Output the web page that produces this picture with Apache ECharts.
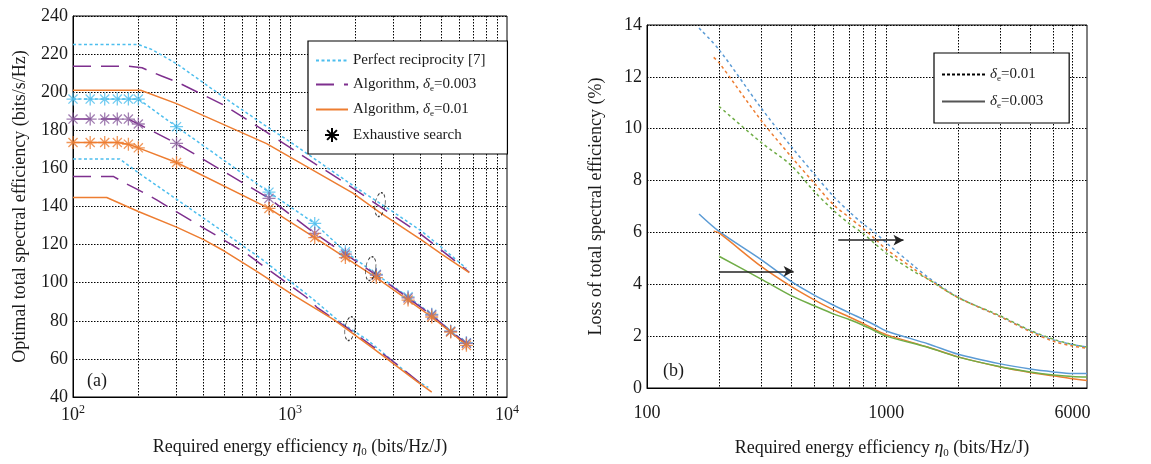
<!DOCTYPE html>
<html>
<head>
<meta charset="utf-8">
<script src="https://cdn.jsdelivr.net/npm/echarts@6/dist/echarts.min.js"></script>
<style>
  html, body { margin: 0; padding: 0; background: #fff; }
  #chart { width: 1151px; height: 464px; }
</style>
</head>
<body>
<div id="chart"></div>
<script>
// ---------- (a) optimal total spectral efficiency vs required energy efficiency ----------
// [eta0 (bits/Hz/J), spectral efficiency (bits/s/Hz)]
const prTop = [[100,225],[200,225],[230,222.5],[300,215],[500,197],[780,182],[1000,174],[1950,151],[3000,137],[4045,127],[5000,118.5],[6500,107.5]];
const alg3Top = [[100,213.6],[180,213.6],[208,212.8],[256,208.5],[300,205.5],[500,193],[780,179],[1280,163],[1760,153],[3200,133],[4000,125.5],[5000,117],[6700,105.5]];
const alg10Top = [[100,201],[205,201],[300,194],[780,173],[1280,159],[1950,147],[2580,137],[4045,122.3],[5000,115],[6700,105.3]];

// middle configuration, also checked by exhaustive search at the same eta0 values
const esEta = [100,120,140,160,180,200,300,800,1300,1800,2500,3500,4500,5500,6500];
const prMid = [196.4,196.4,196.4,196.4,196.4,196.4,181.9,147.5,131.1,116.2,104.4,92.6,83.4,74.6,68.5];
const alg3Mid = [185.9,185.9,185.9,185.9,185.9,183.3,173.1,144.3,125.9,115,104,92,83,74.4,68.2];
const alg10Mid = [173.6,173.6,173.6,173.6,172.7,170.8,163.1,139.0,123.7,113.2,102.7,90.9,82,74.1,67.1];

const prBot = [[100,165],[164,165],[200,157.7],[300,143.8],[472,128.2],[744,112.2],[1267,91.7],[1696,79.4],[2272,70],[3350,54],[3815,48.8],[4340,45]];
const alg3Bot = [[100,155.7],[154,155.7],[174,152.2],[200,148.7],[243,143.5],[281,139.1],[465,124.3],[636,115],[718,110.5],[1187,92.5],[1330,87.1],[1590,81],[1810,76.8],[2940,59.3],[3815,49],[4000,47]];
const alg10Bot = [[100,144.7],[143,144.7],[200,137.4],[300,129.2],[400,122.6],[500,116.5],[700,106.1],[1010,94.3],[1590,80.6],[2425,65.4],[3815,48.5],[4500,42.6]];

// dashed ellipses grouping the three curve families
const ellipseEta = [2600, 2355, 1890];
const ellipseSE = [141, 107.4, 75.9];

// ---------- (b) loss of total spectral efficiency (%) ----------
const lossBlueDash = [[165,13.88],[200,13.05],[300,10.8],[400,9.32],[500,8.25],[600,7.4],[700,6.8],[800,6.33],[900,5.98],[1000,5.6],[1300,4.72],[1500,4.26],[2000,3.5],[3000,2.75],[4000,2.2],[5000,1.85],[6000,1.68],[6900,1.58]];
const lossOrangeDash = [[190,12.75],[200,12.55],[300,10.32],[400,8.93],[500,7.9],[600,7.08],[700,6.58],[800,6.15],[900,5.74],[1000,5.35],[1300,4.6],[1500,4.19],[2000,3.48],[3000,2.75],[4000,2.17],[5000,1.8],[6000,1.62],[6900,1.53]];
const lossGreenDash = [[200,10.86],[300,9.47],[400,8.59],[500,7.58],[600,6.86],[700,6.34],[800,5.96],[900,5.55],[1000,5.2],[1300,4.5],[1500,4.19],[2000,3.48],[3000,2.78],[4000,2.22],[5000,1.88],[6000,1.68],[6900,1.58]];
const lossBlueSolid = [[165,6.71],[200,6.04],[300,4.95],[400,4.11],[500,3.58],[600,3.2],[700,2.9],[800,2.65],[900,2.42],[1000,2.2],[1500,1.7],[2000,1.3],[3000,0.93],[4000,0.73],[5000,0.62],[6000,0.56],[6900,0.56]];
const lossOrangeSolid = [[190,6.05],[200,5.98],[300,4.69],[400,3.92],[500,3.4],[600,3.02],[700,2.74],[800,2.49],[900,2.25],[1000,2.06],[1500,1.57],[2000,1.2],[3000,0.81],[4000,0.6],[5000,0.47],[6000,0.36],[6900,0.29]];
const lossGreenSolid = [[200,5.08],[300,4.2],[400,3.56],[500,3.17],[600,2.86],[700,2.64],[800,2.42],[900,2.2],[1000,2.0],[1500,1.56],[2000,1.19],[3000,0.82],[4000,0.62],[5000,0.5],[6000,0.44],[6900,0.42]];

// horizontal arrows: [eta from, eta to, loss level]
const arrowLow = [200, 410, 4.5];
const arrowHigh = [630, 1180, 5.7];

// axis ticks / grid
const leftGridEta = [200,300,400,500,600,700,800,900,1000,2000,3000,4000,5000,6000,7000,8000,9000];
const rightGridEta = [200,300,400,500,600,700,800,900,1000,2000,3000,4000,5000,6000];
const leftTickEta = [100, 1000, 10000];
const rightTickEta = [100, 1000, 6000];
const rightMaxEta = 6900;

// ---------- styling ----------
const FONT = '"Liberation Serif", "DejaVu Serif", serif';
const TXT = '#1a1a1a';
const CYAN = '#4DBEEE', PURPLE = '#7E2F8E', ORANGE = '#ED7D31', PURPLE_MK = '#8A5C9E';
const BLUE = '#5B9BD5', GREEN = '#70AD47';
const ASTERISK = 'path://M0,-10L0,10M-10,0L10,0M-7,-7L7,7M-7,7L7,-7';

const lg = v => Math.log10(v);
const toXY = pts => pts.map(p => [lg(p[0]), p[1]]);
const zipXY = (xs, ys) => xs.map((x, i) => [lg(x), ys[i]]);

function curve(name, data, color, dash, width, idx, smooth) {
  return {
    type: 'line', name, data, xAxisIndex: idx, yAxisIndex: idx,
    symbol: 'none', showSymbol: false, smooth: smooth || false,
    lineStyle: { color, type: dash, width }, itemStyle: { color },
    silent: true, z: 3
  };
}
function stars(name, data, color) {
  return {
    type: 'scatter', name, data, xAxisIndex: 0, yAxisIndex: 0,
    symbol: ASTERISK, symbolSize: 13,
    itemStyle: { color, borderColor: color, borderWidth: 1.3 },
    silent: true, z: 5
  };
}

const N_PR = 'Perfect reciprocity [7]';
const N_A3 = 'Algorithm, δe=0.003';
const N_A10 = 'Algorithm, δe=0.01';
const N_ES = 'Exhaustive search';
const N_D01 = 'δe=0.01';
const N_D003 = 'δe=0.003';

const PR_DASH = [3, 2.5];
const A3_DASH = [18, 10];
const LOSS_DASH = [3, 3];

const subRich = {
  d: { fontFamily: FONT, fontSize: 15, fontStyle: 'italic', color: TXT },
  s: { fontFamily: FONT, fontSize: 9, color: TXT, padding: [8, 0, 0, 0] },
  t: { fontFamily: FONT, fontSize: 15, color: TXT }
};
const legendFmt = name => {
  const i = name.indexOf('δe');
  if (i < 0) return '{t|' + name + '}';
  return '{t|' + name.slice(0, i) + '}{d|δ}{s|e}{t|' + name.slice(i + 2) + '}';
};
// line entries show only their stroke; the search entry keeps its asterisk
const lineOnly = { opacity: 0 };
const showMark = { opacity: 1 };

const axisNameRich = {
  t: { fontFamily: FONT, fontSize: 18, color: TXT },
  i: { fontFamily: FONT, fontSize: 18, fontStyle: 'italic', color: TXT },
  s: { fontFamily: FONT, fontSize: 11, color: TXT, padding: [10, 0, 0, 0] }
};
const gridLine = { show: true, lineStyle: { color: '#000', type: [1.5, 1.5], width: 1 } };

function xAxisFor(idx, maxEta, gridEta, tickEta, fmt, labelMargin, nameGap, shift) {
  return {
    type: 'value', gridIndex: idx, min: 2, max: lg(maxEta),
    axisLine: { show: true, onZero: false, lineStyle: { color: '#000', width: 1 } },
    axisTick: { show: false, customValues: gridEta.map(lg) },
    splitLine: gridLine,
    axisLabel: {
      customValues: tickEta.map(lg), formatter: fmt, margin: labelMargin,
      fontFamily: FONT, fontSize: 18, color: TXT,
      rich: {
        b: { fontFamily: FONT, fontSize: 18, color: TXT },
        p: { fontFamily: FONT, fontSize: 12, color: TXT, padding: [0, 0, 10, 0] }
      }
    },
    name: '{t|Required energy efficiency }{i|η}{s|0}{t| (bits/Hz/J)}',
    nameLocation: 'middle', nameGap,
    nameTextStyle: { rich: axisNameRich, padding: [0, 0, 0, shift] }
  };
}
function yAxisFor(idx, min, max, step, title, gap) {
  return {
    type: 'value', gridIndex: idx, min, max, interval: step,
    axisLine: { show: true, lineStyle: { color: '#000', width: 1 } },
    axisTick: { show: false },
    splitLine: gridLine,
    axisLabel: { fontFamily: FONT, fontSize: 18, color: TXT, margin: 5 },
    name: title, nameLocation: 'middle', nameGap: gap,
    nameTextStyle: { fontFamily: FONT, fontSize: 18, color: TXT }
  };
}

const option = {
  animation: false,
  backgroundColor: '#fff',
  grid: [
    { left: 73, right: 644, top: 16, bottom: 67, show: true, borderColor: '#000', borderWidth: 1, backgroundColor: 'transparent' },
    { left: 647, right: 64, top: 25, bottom: 76, show: true, borderColor: '#000', borderWidth: 1, backgroundColor: 'transparent' }
  ],
  xAxis: [
    xAxisFor(0, 10000, leftGridEta, leftTickEta, v => '{b|10}{p|' + Math.round(v) + '}', 7, 40, 20),
    xAxisFor(1, rightMaxEta, rightGridEta, rightTickEta, v => '{b|' + Math.round(Math.pow(10, v)) + '}', 16, 50, 30)
  ],
  yAxis: [
    yAxisFor(0, 40, 240, 20, 'Optimal total spectral efficiency (bits/s/Hz)', 44),
    yAxisFor(1, 0, 14, 2, 'Loss of total spectral efficiency (%)', 42)
  ],
  legend: [
    {
      data: [N_PR, N_A3, N_A10, { name: N_ES, itemStyle: showMark }],
      orient: 'vertical', left: 308, top: 41,
      itemWidth: 32, itemHeight: 14, itemGap: 9, itemStyle: lineOnly,
      padding: [12, 22, 11, 7], borderColor: '#000', borderWidth: 1.2, backgroundColor: '#fff',
      selectedMode: false, formatter: legendFmt,
      textStyle: { fontFamily: FONT, fontSize: 15, color: TXT, rich: subRich }
    },
    {
      data: [N_D01, N_D003], orient: 'vertical', left: 934, top: 53,
      itemWidth: 43, itemHeight: 14, itemGap: 11, itemStyle: lineOnly,
      padding: [14, 26, 13, 7], borderColor: '#000', borderWidth: 1.2, backgroundColor: '#fff',
      selectedMode: false, formatter: legendFmt,
      textStyle: { fontFamily: FONT, fontSize: 15, color: TXT, rich: subRich }
    }
  ],
  graphic: [
    { type: 'text', left: 87, top: 372, style: { text: '(a)', font: '18px ' + FONT, fill: TXT } },
    { type: 'text', left: 663, top: 362, style: { text: '(b)', font: '18px ' + FONT, fill: TXT } }
  ],
  series: [
    // (a) curves
    curve(N_PR, toXY(prTop), CYAN, PR_DASH, 1.5, 0),
    curve(N_A3, toXY(alg3Top), PURPLE, A3_DASH, 1.5, 0),
    curve(N_A10, toXY(alg10Top), ORANGE, 'solid', 1.5, 0),
    curve(N_PR, zipXY(esEta, prMid), CYAN, PR_DASH, 1.5, 0),
    curve(N_A3, zipXY(esEta, alg3Mid), PURPLE, A3_DASH, 1.5, 0),
    curve(N_A10, zipXY(esEta, alg10Mid), ORANGE, 'solid', 1.5, 0),
    curve(N_PR, toXY(prBot), CYAN, PR_DASH, 1.5, 0),
    curve(N_A3, toXY(alg3Bot), PURPLE, A3_DASH, 1.5, 0),
    curve(N_A10, toXY(alg10Bot), ORANGE, 'solid', 1.5, 0),
    stars('Exhaustive search, perfect reciprocity', zipXY(esEta, prMid), CYAN),
    stars('Exhaustive search, δe=0.003', zipXY(esEta, alg3Mid), PURPLE_MK),
    stars('Exhaustive search, δe=0.01', zipXY(esEta, alg10Mid), ORANGE),
    {
      type: 'scatter', name: N_ES, data: [], xAxisIndex: 0, yAxisIndex: 0,
      symbol: ASTERISK, symbolSize: 12,
      itemStyle: { color: '#000', borderColor: '#000', borderWidth: 1.4 }
    },
    {
      type: 'scatter', name: 'groups', data: zipXY(ellipseEta, ellipseSE), xAxisIndex: 0, yAxisIndex: 0,
      symbol: 'circle', symbolSize: [10, 24], symbolRotate: -8,
      itemStyle: { color: 'rgba(0,0,0,0)', borderColor: '#000', borderWidth: 1, borderType: [3, 2] },
      silent: true, z: 6
    },
    // (b) curves
    curve('blue δe=0.01', toXY(lossBlueDash), BLUE, LOSS_DASH, 1.5, 1, 0.3),
    curve('orange δe=0.01', toXY(lossOrangeDash), ORANGE, LOSS_DASH, 1.5, 1, 0.3),
    curve('green δe=0.01', toXY(lossGreenDash), GREEN, LOSS_DASH, 1.5, 1, 0.3),
    curve('blue δe=0.003', toXY(lossBlueSolid), BLUE, 'solid', 1.5, 1, 0.3),
    curve('orange δe=0.003', toXY(lossOrangeSolid), ORANGE, 'solid', 1.5, 1, 0.3),
    curve('green δe=0.003', toXY(lossGreenSolid), GREEN, 'solid', 1.5, 1, 0.3),
    curve(N_D01, [], '#000', [3, 2], 1, 1),
    curve(N_D003, [], '#555', 'solid', 2, 1),
    {
      type: 'line', name: 'arrows', data: [], xAxisIndex: 1, yAxisIndex: 1,
      markLine: {
        silent: true, symbol: ['none', 'arrow'], symbolSize: [8, 10],
        label: { show: false },
        lineStyle: { color: '#222', type: 'solid', width: 1.5 },
        data: [arrowLow, arrowHigh].map(a => [
          { coord: [lg(a[0]), a[2]] },
          { coord: [lg(a[1]), a[2]] }
        ])
      }
    }
  ]
};

const chart = echarts.init(document.getElementById('chart'), null, { renderer: 'canvas' });
chart.setOption(option);
</script>
</body>
</html>
